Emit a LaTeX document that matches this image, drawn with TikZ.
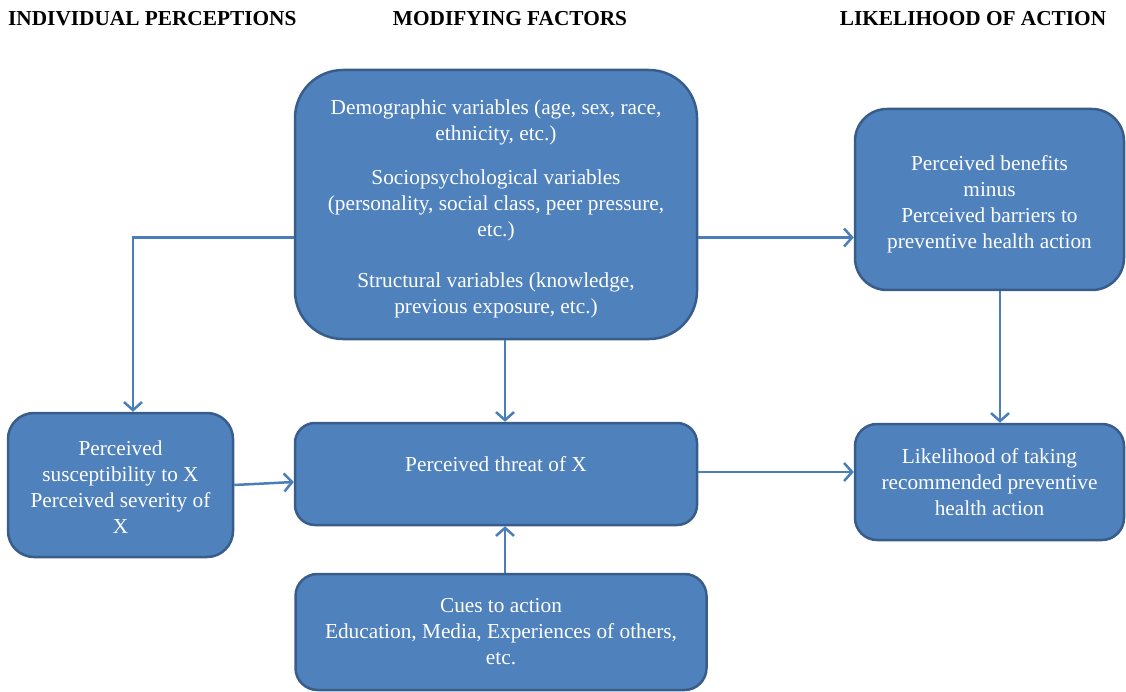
\documentclass[tikz,border=0pt]{standalone}
\usepackage{fontspec}
\setmainfont{Liberation Serif}
\usetikzlibrary{arrows.meta}
\definecolor{boxfill}{HTML}{4F81BD}
\definecolor{boxline}{HTML}{385D8A}
\definecolor{arrowblue}{HTML}{4A7EBB}
\tikzset{
  box/.style={draw=boxline, fill=boxfill, line width=2.5pt, text=white,
    align=center, inner sep=0pt, font=\fontsize{21.3}{26}\selectfont},
  heading/.style={font=\bfseries\fontsize{21.3}{24}\selectfont, inner sep=0pt},
  arrow/.style={draw=arrowblue, line width=2.5pt,
    -{Straight Barb[length=8pt, width=18pt, line width=2.5pt]}}
}
\begin{document}
\begin{tikzpicture}[x=1pt, y=-1pt]
    \useasboundingbox (0,0) rectangle (1126,692);
    % Column headings
    \node [heading, anchor=west] (hindiv) at (8,19) {INDIVIDUAL PERCEPTIONS};
    \node [heading] (hmodify) at (510,19) {MODIFYING FACTORS};
    \node [heading] (hlikely) at (973,19) {LIKELIHOOD OF ACTION};
    % Modifying factors
    \node [box, minimum width=402pt, minimum height=269pt, rounded corners=48pt] (modify) at (496,204.5)
      {\rule{0pt}{23pt}Demographic variables (age, sex, race,\\ ethnicity, etc.)\\[18pt]
       Sociopsychological variables\\ (personality, social class, peer pressure,\\ etc.)\\[25pt]
       Structural variables (knowledge,\\ previous exposure, etc.)};
    \node [box, minimum width=402pt, minimum height=102pt, rounded corners=20pt, text depth=20pt] (threat) at (496,474)
      {Perceived threat of X};
    \node [box, minimum width=411pt, minimum height=116pt, rounded corners=22pt] (cues) at (501,632)
      {Cues to action\\ Education, Media, Experiences of others,\\ etc.};
    % Individual perceptions
    \node [box, minimum width=225pt, minimum height=144pt, rounded corners=26pt] (percv) at (120.5,485)
      {\rule{0pt}{19pt}Perceived\\ susceptibility to X\\ Perceived severity of\\ X};
    % Likelihood of action
    \node [box, minimum width=269pt, minimum height=181pt, rounded corners=32pt] (benefit) at (989.5,199.5)
      {\rule{0pt}{25pt}Perceived benefits\\ minus\\ Perceived barriers to\\ preventive health action};
    \node [box, minimum width=269pt, minimum height=116pt, rounded corners=22pt] (likely) at (989.5,482)
      {Likelihood of taking\\ recommended preventive\\ health action};
    % Connectors
    \draw [arrow] ([yshift=-33pt]modify.west) -| ([xshift=12.5pt]percv.north);
    \draw [arrow] ([yshift=-33pt]modify.east) -- ([yshift=-33pt]modify.east -| benefit.west);
    \draw [arrow] ([xshift=9pt]modify.south) -- ([xshift=9pt]modify.south |- threat.north);
    \draw [arrow] (percv.east) -- ([yshift=-8pt]threat.west);
    \draw [arrow] ([yshift=2pt]threat.east) -- ([yshift=2pt]threat.east -| likely.west);
    \draw [arrow] ([xshift=10.5pt]benefit.south) -- ([xshift=10.5pt]benefit.south |- likely.north);
    \draw [arrow] ([xshift=9pt]threat.south |- cues.north) -- ([xshift=9pt]threat.south);
  \end{tikzpicture}
\end{document}
